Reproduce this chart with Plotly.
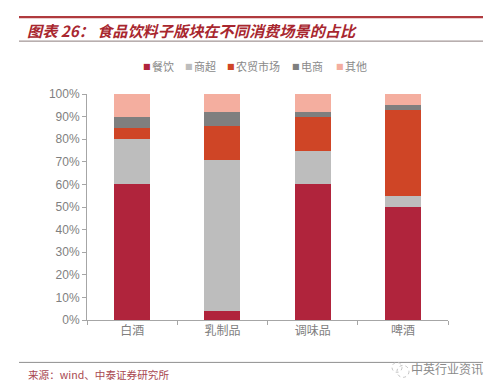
import plotly.graph_objects as go

categories = ["白酒", "乳制品", "调味品", "啤酒"]
canyin = [60, 4, 60, 50]
shangchao = [20, 67, 15, 5]
nongmao = [5, 15, 15, 38]
dianshang = [5, 6, 2, 2]
qita = [10, 8, 8, 5]
y_ticks = list(range(0, 101, 10))
y_labels = [f"{v}%" for v in y_ticks]

series = [
    ("餐饮", canyin, "#B0243C", 141),
    ("商超", shangchao, "#BDBDBD", 183),
    ("农贸市场", nongmao, "#CF4526", 225),
    ("电商", dianshang, "#7F7F7F", 290),
    ("其他", qita, "#F4AE9F", 334),
]

W, H = 500, 391
L, R, T, B = 87, 448, 94, 320.5


def px(x):
    return (x - L) / (R - L)


def py(y):
    return (B - y) / (B - T)


fig = go.Figure()
title_font = dict(size=15.2, color="#A8272F", family="Noto Sans CJK SC")
annotations = [
    dict(text="<b><i>图表 26：</i></b>", x=px(25), y=py(30), xanchor="left", font=title_font),
    dict(text="<b><i>食品饮料子版块在不同消费场景的占比</i></b>", x=px(95), y=py(30), xanchor="left", font=title_font),
    dict(text="来源：wind、中泰证券研究所", x=px(26), y=py(375), xanchor="left",
         font=dict(size=10.6, color="#A8474F", family="Noto Sans CJK SC")),
    dict(text="中英行业资讯", x=px(485), y=py(369.5), xanchor="right",
         font=dict(size=12, color="#8A8A8A", family="Noto Sans CJK SC")),
]
for name, vals, color, lx in series:
    fig.add_trace(go.Bar(name=name, x=categories, y=vals, marker=dict(color=color, line=dict(width=0)),
                         showlegend=False))
    annotations.append(dict(text="■", x=px(lx), y=py(66), xanchor="left",
                            font=dict(size=8, color=color, family="DejaVu Sans")))
    annotations.append(dict(text=name, x=px(lx + 9), y=py(66), xanchor="left",
                            font=dict(size=11, color="#8A8A8A", family="Noto Sans CJK SC")))
for a in annotations:
    a.update(xref="paper", yref="paper", yanchor="middle", showarrow=False)

for y0, color, w in [(17, "#B03A3E", 2.2), (41, "#8C7C7C", 1), (363, "#8E8E8E", 1)]:
    fig.add_shape(type="line", xref="paper", yref="paper", x0=px(19), x1=px(483), y0=py(y0), y1=py(y0),
                  line=dict(color=color, width=w))
# small watermark bubbles
for cx, cy, r in [(397, 368, 5), (403, 372, 6)]:
    fig.add_shape(type="circle", xref="paper", yref="paper", x0=px(cx - r), x1=px(cx + r), y0=py(cy + r), y1=py(cy - r),
                  line=dict(color="#C4C4C4", width=1, dash="dot"))

fig.update_layout(
    width=W, height=H,
    margin=dict(l=L, r=W - R, t=T, b=H - B, pad=0, autoexpand=False),
    barmode="stack", bargap=0.6,
    paper_bgcolor="white", plot_bgcolor="white",
    font=dict(family="Liberation Sans, Noto Sans CJK SC", color="#7F7F7F", size=13),
    showlegend=False,
    annotations=annotations,
    xaxis=dict(tickson="boundaries", ticks="outside", ticklen=4, automargin=False,
               tickcolor="#A6A6A6", linecolor="#A6A6A6", linewidth=1, showline=True, showgrid=False,
               tickfont=dict(size=12, color="#7F7F7F", family="Noto Sans CJK SC")),
    yaxis=dict(range=[0, 100], tickmode="array", tickvals=y_ticks, ticktext=y_labels, automargin=False,
               ticks="outside", ticklen=4, tickcolor="#A6A6A6", linecolor="#A6A6A6", linewidth=1, showline=True,
               showgrid=False, zeroline=False, tickfont=dict(size=12, color="#7F7F7F", family="Liberation Sans")),
)
fig.write_html("out.html", config={"displayModeBar": False},
               post_script="document.body.style.margin='0';document.body.style.overflow='hidden';")
